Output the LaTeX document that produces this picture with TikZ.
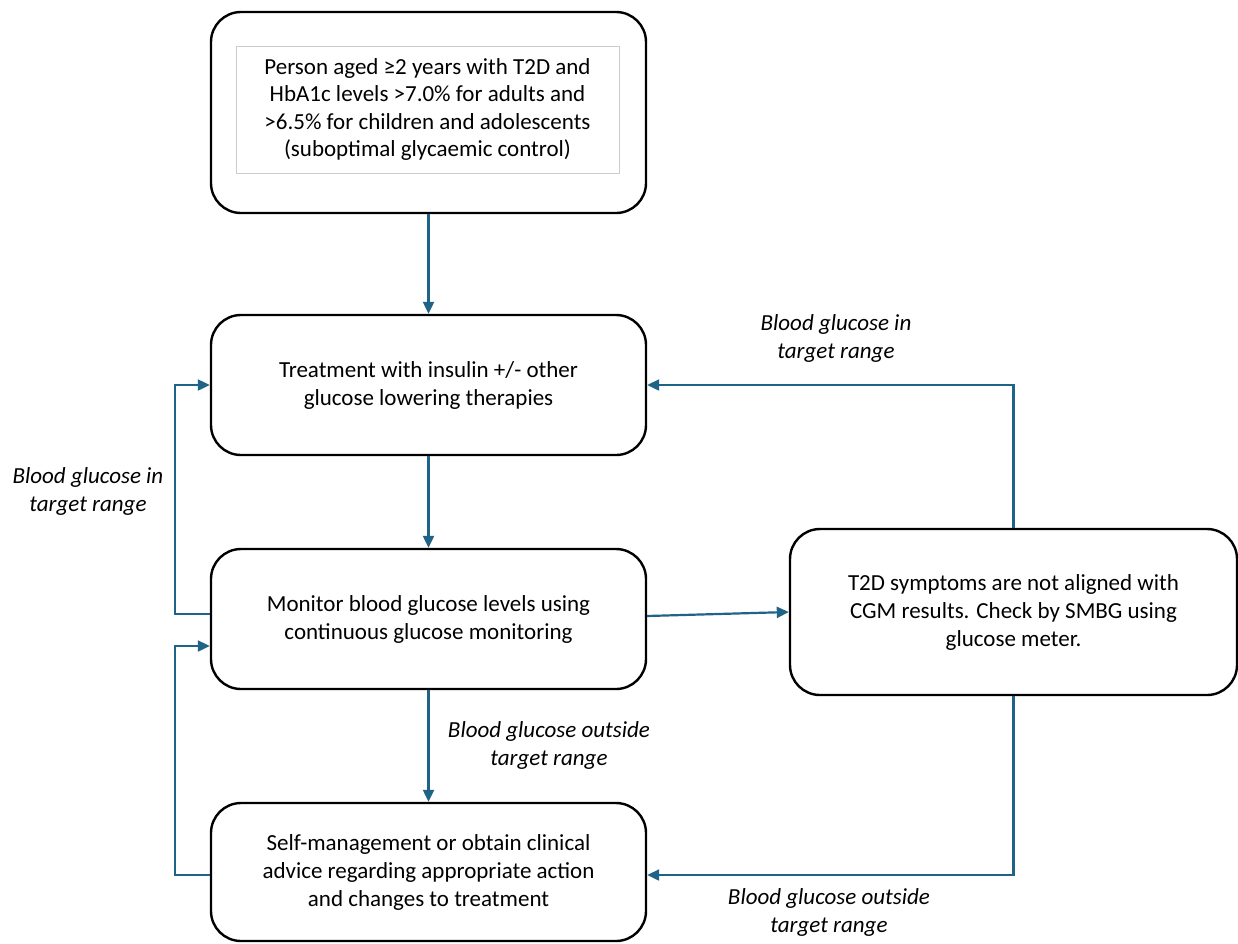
\documentclass[tikz,border=0pt]{standalone}
\usepackage{fontspec}
\setmainfont{Carlito}
\usetikzlibrary{arrows.meta}
\definecolor{flowblue}{RGB}{31,99,135}
\tikzset{
  box/.style={draw=black, line width=2.4pt, rounded corners=30pt, align=center,
    font=\fontsize{23}{28}\selectfont, inner sep=0pt},
  conn/.style={draw=flowblue, line width=2.2pt},
  arr/.style={conn, -{Triangle[length=12pt,width=11pt]}},
  lbl/.style={align=center, font=\fontsize{23}{28}\selectfont\itshape}
}
\begin{document}
\begin{tikzpicture}[x=1pt,y=-1pt]
\useasboundingbox (0,0) rectangle (1238,943);
\node[box, minimum width=435pt, minimum height=201pt] (top) at (428.5,112.5) {};
\node[draw=black!20, line width=0.6pt, minimum width=383pt, minimum height=127pt, align=center,
  font=\fontsize{23}{27.5}\selectfont, inner sep=0pt] (inner) at (427.5,109.5)
  {Person aged ≥2 years with T2D and\\HbA1c levels >7.0\% for adults and\\>6.5\% for children and adolescents\\(suboptimal glycaemic control)};
\node[box, minimum width=435pt, minimum height=140pt] (treat) at (428.5,385)
  {Treatment with insulin +/- other\\glucose lowering therapies};
\node[box, minimum width=435pt, minimum height=140pt] (mon) at (428.5,619)
  {Monitor blood glucose levels using\\continuous glucose monitoring};
\node[box, minimum width=435pt, minimum height=138pt] (self) at (428.5,872)
  {Self-management or obtain clinical\\advice regarding appropriate action\\and changes to treatment};
\node[box, minimum width=447pt, minimum height=166pt] (t2d) at (1013.5,612)
  {T2D symptoms are not aligned with\\CGM results. Check by SMBG using\\glucose meter.};

\draw[arr] (top.south) -- (treat.north);
\draw[arr] (treat.south) -- (mon.north);
\draw[arr] (mon.south) -- (self.north);
\draw[arr] ([yshift=3pt]mon.east) -- (t2d.west);
\draw[arr] ([yshift=5pt]mon.west) -- ++(-35pt,0) |- (treat.west);
\draw[arr] ([yshift=-3pt]self.west) -- ++(-35pt,0) |- ([yshift=-27pt]mon.west);
\draw[arr] (t2d.north) |- (treat.east);
\draw[arr] (t2d.south) |- ([yshift=-3pt]self.east);

\node[lbl] (l1) at (836,338) {Blood glucose in\\target range};
\node[lbl] (l2) at (88,491) {Blood glucose in\\target range};
\node[lbl] (l3) at (549,745) {Blood glucose outside\\target range};
\node[lbl] (l4) at (829,912) {Blood glucose outside\\target range};
\end{tikzpicture}
\end{document}
